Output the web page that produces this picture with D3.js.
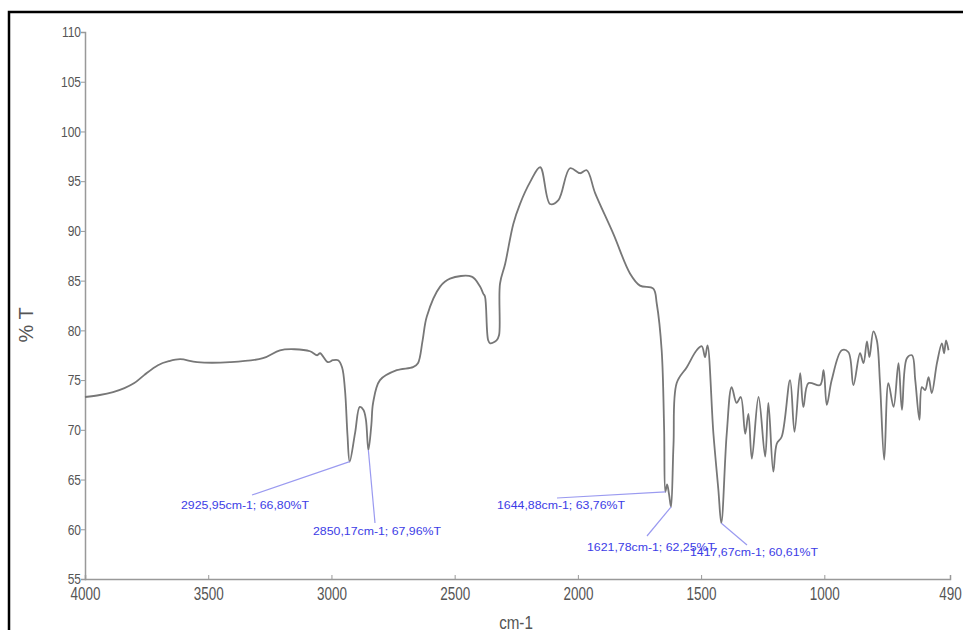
<!DOCTYPE html>
<html>
<head>
<meta charset="utf-8">
<script src="https://cdn.jsdelivr.net/npm/d3@7"></script>
<style>
  body { margin: 0; background: #fff; }
  svg { display: block; }
</style>
</head>
<body>
<div id="chart"></div>
<script>
// IR spectrum, %T vs wavenumber (cm-1)
const wavenumbers = [4000, 3940, 3886, 3840, 3800, 3760, 3704, 3660, 3614, 3545, 3412, 3278, 3209, 3150, 3087, 3058, 3046, 3014, 2994, 2973,
  2957, 2945, 2935, 2926, 2904, 2885, 2870, 2860, 2850, 2838, 2831, 2803, 2735, 2669, 2649, 2630, 2613, 2559, 2519, 2431,
  2397, 2384, 2377, 2364, 2356, 2330, 2320, 2316, 2295, 2262, 2235, 2194, 2153, 2113, 2079, 2032, 1991, 1964, 1930, 1856,
  1788, 1748, 1694, 1680, 1660, 1650, 1645, 1638, 1630, 1622, 1612, 1599, 1558, 1518, 1497, 1484, 1474, 1450, 1430, 1418,
  1396, 1376, 1356, 1339, 1321, 1308, 1294, 1267, 1240, 1227, 1207, 1193, 1173, 1139, 1121, 1098, 1085, 1064, 1017, 1003,
  990, 970, 929, 902, 882, 855, 841, 827, 817, 801, 787, 774, 757, 740, 719, 699, 685, 665, 644, 631,
  614, 604, 591, 577, 564, 543, 523, 514, 506, 496];
const transmittance = [73.3, 73.5, 73.8, 74.2, 74.7, 75.5, 76.5, 76.9, 77.1, 76.8, 76.8, 77.2, 78.0, 78.1, 77.9, 77.5, 77.7, 76.8, 77.0, 77.0,
  76.3, 74.0, 69.5, 66.8, 69.7, 72.3, 72.0, 71.0, 67.96, 70.5, 72.7, 75.0, 76.0, 76.3, 76.7, 79.0, 81.4, 84.4, 85.2, 85.4,
  84.4, 83.7, 83.4, 79.0, 78.7, 79.0, 79.5, 84.7, 86.7, 90.7, 92.7, 94.9, 96.4, 92.7, 93.1, 96.3, 95.8, 96.1, 93.8, 89.7,
  85.7, 84.5, 84.2, 82.7, 78.0, 70.0, 63.76, 64.5, 63.5, 62.25, 68.5, 74.7, 76.3, 78.0, 78.4, 77.3, 78.5, 69.6, 64.0, 60.61,
  69.6, 74.3, 72.7, 73.3, 69.6, 71.6, 67.1, 73.3, 67.3, 72.7, 65.8, 68.6, 69.3, 75.0, 69.8, 75.7, 72.3, 74.7, 74.5, 76.0,
  72.5, 75.0, 78.0, 77.8, 74.5, 77.7, 76.7, 78.9, 77.3, 79.9, 79.0, 74.7, 67.0, 74.7, 72.3, 76.7, 72.0, 77.2, 77.5, 75.0,
  71.0, 74.3, 74.0, 75.3, 73.7, 76.7, 78.7, 77.7, 79.0, 78.0];

const xTicks = [4000, 3500, 3000, 2500, 2000, 1500, 1000, 490];
const yTicks = [55, 60, 65, 70, 75, 80, 85, 90, 95, 100, 105, 110];

// peak annotations
const peakWn = [2925.95, 2850.17, 1644.88, 1621.78, 1417.67];
const peakT = [66.80, 67.96, 63.76, 62.25, 60.61];
const peakText = ["2925,95cm-1; 66,80%T", "2850,17cm-1; 67,96%T", "1644,88cm-1; 63,76%T",
  "1621,78cm-1; 62,25%T", "1417,67cm-1; 60,61%T"];

const width = 963, height = 630;
const narrow = "'Liberation Sans', Arial, sans-serif";

const svg = d3.select("#chart").append("svg")
    .attr("width", width)
    .attr("height", height);

// frame of the picture
svg.append("path")
    .attr("d", "M9,630 L9,12 L963,12")
    .attr("fill", "none")
    .attr("stroke", "#000")
    .attr("stroke-width", 2.5);

const x = d3.scaleLinear().domain([4000, 490]).range([85, 950]);
const y = d3.scaleLinear().domain([55, 110]).range([579, 32]);

// y axis
const yAxis = svg.append("g")
    .attr("transform", "translate(85,0)")
    .call(d3.axisLeft(y).tickValues(yTicks).tickSize(4).tickPadding(1));
yAxis.select(".domain").attr("stroke", "#999").attr("stroke-width", 1.5);
yAxis.selectAll(".tick line").attr("stroke", "#999");
yAxis.selectAll(".tick text")
    .attr("fill", "#555")
    .attr("transform", "scale(0.8,1)")
    .style("font-family", narrow)
    .style("font-size", "15px");

// x axis
const xAxis = svg.append("g")
    .attr("transform", "translate(0,579)")
    .call(d3.axisBottom(x).tickValues(xTicks).tickFormat(d3.format("d")).tickSize(-4).tickPadding(6));
xAxis.select(".domain").attr("stroke", "#999").attr("stroke-width", 1.5);
xAxis.selectAll(".tick line").attr("stroke", "#999");
xAxis.selectAll(".tick text")
    .attr("fill", "#555")
    .attr("dy", "0.85em")
    .attr("transform", "scale(0.75,1)")
    .style("font-family", narrow)
    .style("font-size", "18px");

// axis titles
svg.append("text")
    .attr("transform", "translate(33,325) rotate(-90)")
    .attr("text-anchor", "middle")
    .attr("fill", "#555")
    .style("font-family", narrow)
    .style("font-size", "20px")
    .text("% T");

svg.append("text")
    .attr("transform", "translate(516,629) scale(0.8,1)")
    .attr("text-anchor", "middle")
    .attr("fill", "#555")
    .style("font-family", narrow)
    .style("font-size", "19px")
    .text("cm-1");

// spectrum
const points = wavenumbers.map((w, i) => [w, transmittance[i]]);
const line = d3.line()
    .x(d => x(d[0]))
    .y(d => y(d[1]))
    .curve(d3.curveCatmullRom.alpha(0.5));

svg.append("path")
    .datum(points)
    .attr("d", line)
    .attr("fill", "none")
    .attr("stroke", "#777")
    .attr("stroke-width", 1.8)
    .attr("stroke-linejoin", "round");

// annotation layout: text left x, baseline y, leader start x/y
const labelPos = [
  [181, 509, 252, 495],
  [313, 535, 375, 523],
  [497, 509, 557, 498],
  [587, 551, 647, 536],
  [690, 556, 747, 545]
];

const notes = svg.append("g");
peakWn.forEach((w, i) => {
  const p = labelPos[i];
  notes.append("line")
      .attr("x1", p[2]).attr("y1", p[3])
      .attr("x2", x(w)).attr("y2", y(peakT[i]))
      .attr("stroke", "#9a9af0")
      .attr("stroke-width", 1.2);
  notes.append("text")
      .attr("x", p[0])
      .attr("y", p[1])
      .attr("fill", "#3c3ce6")
      .attr("textLength", 128)
      .attr("lengthAdjust", "spacingAndGlyphs")
      .style("font-family", narrow)
      .style("font-size", "11px")
      .text(peakText[i]);
});
</script>
</body>
</html>
